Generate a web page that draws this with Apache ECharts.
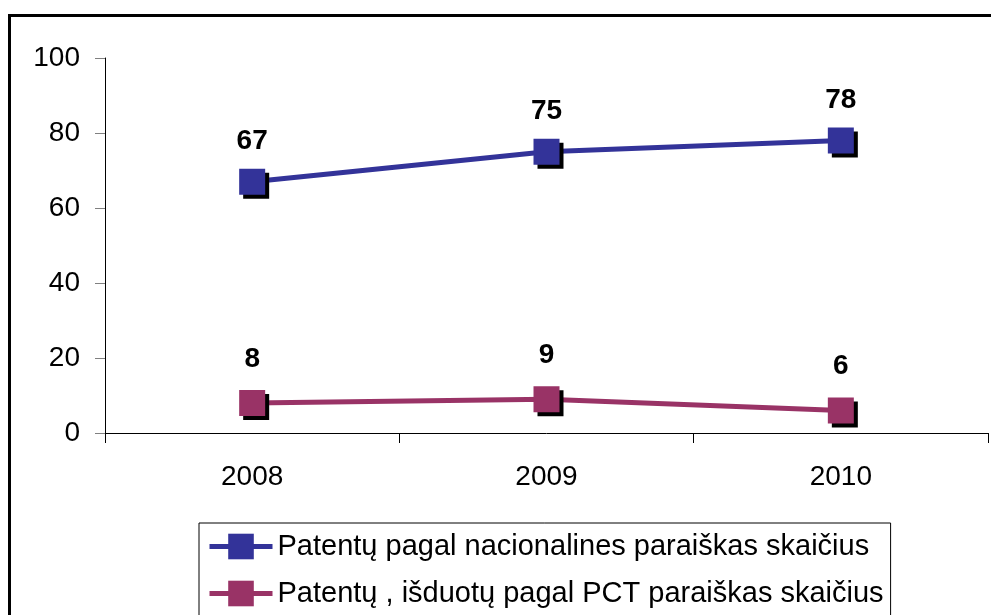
<!DOCTYPE html>
<html>
<head>
<meta charset="utf-8">
<script src="https://cdn.jsdelivr.net/npm/echarts@6/dist/echarts.min.js"></script>
<style>
  html, body { margin: 0; padding: 0; background: #fff; }
  #chart { width: 991px; height: 615px; }
</style>
</head>
<body>
<div id="chart"></div>
<script>
// duomenys
var years = ['2008', '2009', '2010'];
var nationalData = [67, 75, 78];
var pctData = [8, 9, 6];
var seriesNames = [
  'Patentų pagal nacionalines paraiškas skaičius',
  'Patentų , išduotų pagal PCT paraiškas skaičius'
];
var yTicks = [0, 20, 40, 60, 80, 100];

var font = '"Liberation Sans", Arial, sans-serif';
var myChart = echarts.init(document.getElementById('chart'));

var markerShadow = {
  shadowColor: '#000',
  shadowBlur: 0,
  shadowOffsetX: 4,
  shadowOffsetY: 4
};

var option = {
  backgroundColor: '#fff',
  animation: false,
  graphic: [{
    type: 'rect',
    shape: { x: 9.5, y: 15.5, width: 1100, height: 800 },
    style: { fill: 'none', stroke: '#000', lineWidth: 3 },
    silent: true
  }],
  grid: {
    left: 105,
    top: 58,
    right: 3,
    bottom: 182
  },
  legend: {
    orient: 'vertical',
    left: 199,
    top: 523,
    height: 140,
    padding: [9, 7, 30, 8],
    itemWidth: 63,
    itemHeight: 32,
    itemGap: 18,
    borderColor: '#000',
    borderWidth: 1,
    backgroundColor: '#fff',
    lineStyle: { width: 5 },
    itemStyle: { shadowBlur: 0, shadowOffsetX: 0, shadowOffsetY: 0, shadowColor: 'rgba(0,0,0,0)' },
    textStyle: { fontFamily: font, fontSize: 29, color: '#000' },
    data: seriesNames
  },
  xAxis: {
    type: 'category',
    data: years,
    boundaryGap: true,
    axisLine: { lineStyle: { color: '#000', width: 1 } },
    axisTick: { show: true, length: 10, lineStyle: { color: '#000' } },
    axisLabel: { fontFamily: font, fontSize: 28, color: '#000', margin: 30 },
    splitLine: { show: false }
  },
  yAxis: {
    type: 'value',
    min: yTicks[0],
    max: yTicks[yTicks.length - 1],
    interval: yTicks[1] - yTicks[0],
    axisLine: { show: true, lineStyle: { color: '#000', width: 1 } },
    axisTick: { show: true, length: 10, lineStyle: { color: '#808080' } },
    axisLabel: { fontFamily: font, fontSize: 28, color: '#000', margin: 25 },
    splitLine: { show: false }
  },
  series: [{
    name: seriesNames[0],
    type: 'line',
    data: nationalData,
    symbol: 'rect',
    symbolSize: 26,
    color: '#333399',
    lineStyle: { color: '#333399', width: 5 },
    itemStyle: Object.assign({ color: '#333399' }, markerShadow),
    label: {
      show: true,
      position: 'top',
      distance: 13,
      fontFamily: font,
      fontSize: 28,
      fontWeight: 'bold',
      color: '#000'
    }
  }, {
    name: seriesNames[1],
    type: 'line',
    data: pctData,
    symbol: 'rect',
    symbolSize: 26,
    color: '#993366',
    lineStyle: { color: '#993366', width: 5 },
    itemStyle: Object.assign({ color: '#993366' }, markerShadow),
    label: {
      show: true,
      position: 'top',
      distance: 17,
      fontFamily: font,
      fontSize: 28,
      fontWeight: 'bold',
      color: '#000'
    }
  }]
};

myChart.setOption(option);
</script>
</body>
</html>
